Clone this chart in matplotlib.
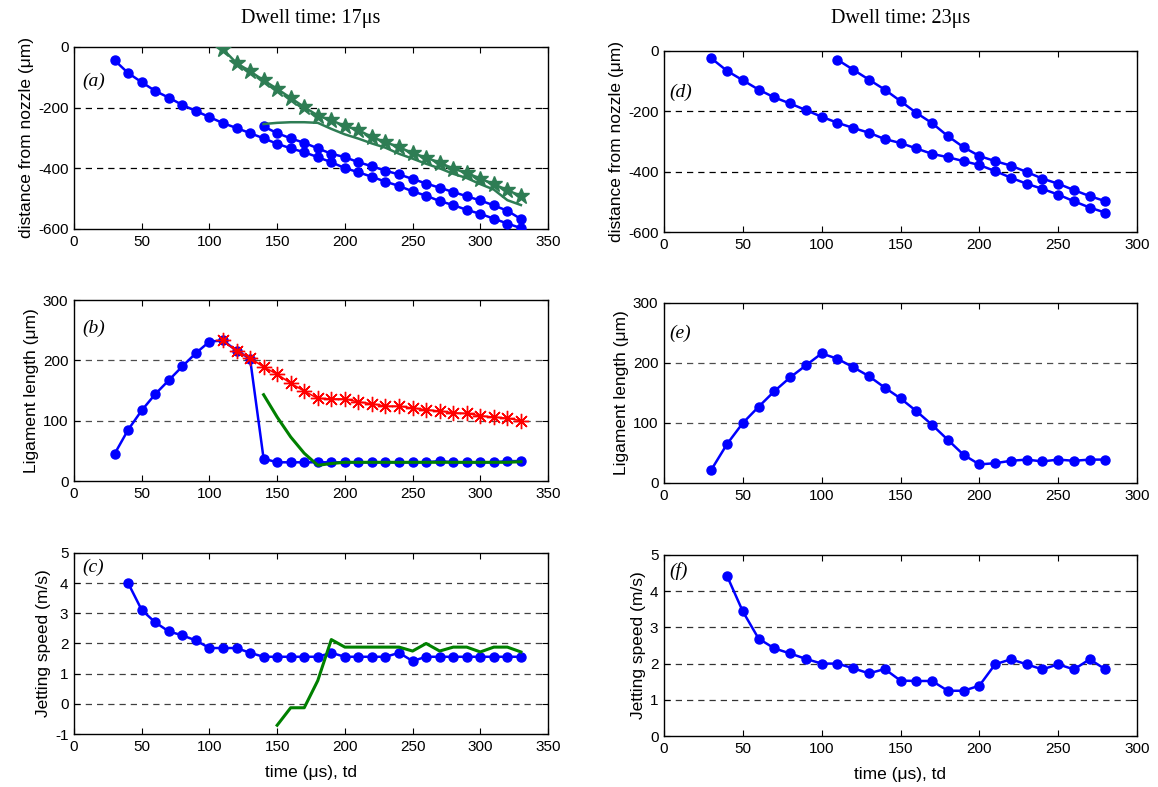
import matplotlib
matplotlib.use("Agg")
import matplotlib.pyplot as plt

# ---------------- data ----------------
# (a) distance from nozzle, dwell 17us
t_a1 = list(range(30, 331, 10))
d_a1 = [-44, -86, -116, -145, -167, -191, -211, -231, -251, -267, -284, -301, -319, -334,
        -347, -363, -380, -399, -413, -428, -444, -458, -476, -490, -508, -521, -537, -550,
        -566, -582, -597]
t_a2 = list(range(140, 331, 10))
d_a2 = [-262, -284, -301, -316, -334, -352, -363, -380, -393, -408, -420, -435, -450, -464,
        -478, -492, -506, -522, -540, -567]
t_a_star = list(range(110, 331, 10))
d_a_star = [-7, -53, -80, -110, -138, -168, -198, -226, -242, -260, -274, -297, -314, -330,
            -350, -365, -381, -401, -415, -434, -452, -472, -491]
t_a_green = list(range(140, 331, 10))
d_a_green = [-254, -250, -248, -248, -250, -270, -288, -302, -318, -332, -352, -368, -385,
             -400, -418, -432, -452, -470, -505, -521]

# (b) ligament length, dwell 17us
t_b = list(range(30, 331, 10))
l_b = [45, 85, 117, 144, 167, 190, 212, 231, 233, 216, 203, 37, 31, 31, 31, 31, 31, 31, 31,
       31, 31, 31, 31, 31, 33, 31, 31, 31, 31, 33, 33]
t_b_red = list(range(110, 331, 10))
l_b_red = [233, 215, 204, 189, 177, 162, 149, 137, 136, 136, 131, 128, 124, 124, 121, 118,
           116, 113, 112, 108, 106, 104, 100]
t_b_green = list(range(140, 331, 10))
l_b_green = [143, 106, 73, 46, 26, 29, 31, 31, 31, 31, 31, 31, 31, 31, 31, 31, 31, 31, 31, 32]

# (c) jetting speed, dwell 17us
t_c = list(range(40, 331, 10))
v_c = [4.0, 3.11, 2.70, 2.40, 2.27, 2.10, 1.85, 1.85, 1.85, 1.69, 1.56, 1.56, 1.56, 1.56,
       1.56, 1.69, 1.56, 1.56, 1.56, 1.56, 1.69, 1.42, 1.56, 1.56, 1.56, 1.56, 1.56, 1.56,
       1.56, 1.56]
t_c_green = list(range(150, 331, 10))
v_c_green = [-0.71, -0.13, -0.13, 0.77, 2.13, 1.88, 1.88, 1.88, 1.88, 1.88, 1.75, 2.0,
             1.75, 1.88, 1.88, 1.72, 1.88, 1.88, 1.72]

# (d) distance from nozzle, dwell 23us
t_d1 = list(range(30, 281, 10))
d_d1 = [-24, -66, -97, -128, -154, -174, -196, -218, -238, -255, -271, -292, -305, -323,
        -341, -352, -365, -378, -398, -420, -440, -457, -476, -498, -519, -536]
t_d2 = list(range(110, 281, 10))
d_d2 = [-29, -62, -95, -128, -166, -205, -239, -282, -319, -348, -365, -380, -401, -423,
        -440, -461, -481, -498]

# (e) ligament length, dwell 23us
t_e = list(range(30, 281, 10))
l_e = [22, 65, 100, 127, 153, 176, 196, 216, 207, 193, 178, 159, 141, 120, 97, 72, 47, 31,
       33, 37, 39, 36, 39, 37, 39, 39]

# (f) jetting speed, dwell 23us
t_f = list(range(40, 281, 10))
v_f = [4.42, 3.44, 2.69, 2.42, 2.28, 2.13, 2.0, 2.0, 1.87, 1.73, 1.85, 1.53, 1.52, 1.52,
       1.25, 1.25, 1.39, 1.98, 2.12, 1.98, 1.84, 1.98, 1.84, 2.12, 1.84]

titles = ["Dwell time: 17\u03bcs", "Dwell time: 23\u03bcs"]
ylabels = ["distance from nozzle (\u03bcm)", "Ligament length (\u03bcm)", "Jetting speed (m/s)"]
xlabel = "time (\u03bcs), td"
panel_tags = [["(a)", "(b)", "(c)"], ["(d)", "(e)", "(f)"]]

# ---------------- figure ----------------
W, H = 1158, 787
plt.rcParams['font.family'] = ['Liberation Sans', 'DejaVu Sans']
plt.rcParams['axes.unicode_minus'] = False
fig = plt.figure(figsize=(W / 100, H / 100), dpi=100)

def box(l, t, r, b):
    return [l / W, 1 - b / H, (r - l) / W, (b - t) / H]

axA = fig.add_axes(box(74, 47, 548, 229))
axB = fig.add_axes(box(74, 300, 548, 481))
axC = fig.add_axes(box(74, 553, 548, 734))
axD = fig.add_axes(box(664, 51, 1137, 232))
axE = fig.add_axes(box(664, 303, 1137, 483))
axF = fig.add_axes(box(664, 555, 1137, 736))

BLUE = (0, 0, 1)
SEAGREEN = (0.18, 0.49, 0.33)
DKGREEN = (0.0, 0.5, 0.0)
lw = 1.8
ms = 6.5

def blue(ax, x, y):
    ax.plot(x, y, '-o', color=BLUE, lw=lw, ms=ms, mec=BLUE, mfc=BLUE, zorder=3)

# (a)
blue(axA, t_a1, d_a1)
blue(axA, t_a2, d_a2)
axA.plot(t_a_star, d_a_star, '-*', color=SEAGREEN, lw=lw, ms=12, zorder=4)
axA.plot(t_a_green, d_a_green, '-', color=SEAGREEN, lw=lw, zorder=4)
# (b)
blue(axB, t_b, l_b)
axB.plot(t_b_red, l_b_red, '-', color='red', lw=1.2, zorder=4,
         marker=(8, 2, 0), ms=11, mew=1.0)
axB.plot(t_b_green, l_b_green, '-', color=DKGREEN, lw=lw + 0.4, zorder=4)
# (c)
blue(axC, t_c, v_c)
axC.plot(t_c_green, v_c_green, '-', color=DKGREEN, lw=lw + 0.4, zorder=4)
# (d)
blue(axD, t_d1, d_d1)
blue(axD, t_d2, d_d2)
# (e)
blue(axE, t_e, l_e)
# (f)
blue(axF, t_f, v_f)

cfg = [
    (axA, (0, 350), (-600, 0), range(0, 351, 50), range(-600, 1, 200), 'k'),
    (axB, (0, 350), (0, 300), range(0, 351, 50), range(0, 301, 100), '0.3'),
    (axC, (0, 350), (-1, 5), range(0, 351, 50), range(-1, 6, 1), '0.25'),
    (axD, (0, 300), (-600, 0), range(0, 301, 50), range(-600, 1, 200), 'k'),
    (axE, (0, 300), (0, 300), range(0, 301, 50), range(0, 301, 100), '0.3'),
    (axF, (0, 300), (0, 5), range(0, 301, 50), range(0, 6, 1), '0.2'),
]
for ax, xl, yl, xt, yt, gc in cfg:
    ax.set_xlim(*xl)
    ax.set_ylim(*yl)
    ax.set_xticks(list(xt))
    ax.set_yticks(list(yt))
    ax.tick_params(direction='in', top=True, right=True, length=4, width=0.8,
                   labelsize=11, pad=4, colors='k')
    for s in ax.spines.values():
        s.set_linewidth(1.0)
    for yv in yt:
        if yl[0] < yv < yl[1]:
            ax.axhline(yv, color=gc, lw=0.9, ls=(0, (5, 4)), zorder=1)

tag_y = [[0.81, 0.845, 0.92], [0.77, 0.83, 0.91]]
tag_x = [0.017, 0.011]
rows = [[axA, axB, axC], [axD, axE, axF]]
for ci, col in enumerate(rows):
    for ri, ax in enumerate(col):
        ax.set_ylabel(ylabels[ri], fontsize=12.5, labelpad=3)
        ax.text(tag_x[ci], tag_y[ci][ri], panel_tags[ci][ri], transform=ax.transAxes,
                family='Liberation Serif', style='italic', fontsize=14, va='center')
    col[2].set_xlabel(xlabel, fontsize=12.5, labelpad=8)
    pos = col[0].get_position()
    fig.text(pos.x0 + pos.width / 2, 1 - 18 / H, titles[ci], family='Liberation Serif',
             fontsize=14.5, ha='center', va='center')

fig.savefig("out.png", dpi=100)
